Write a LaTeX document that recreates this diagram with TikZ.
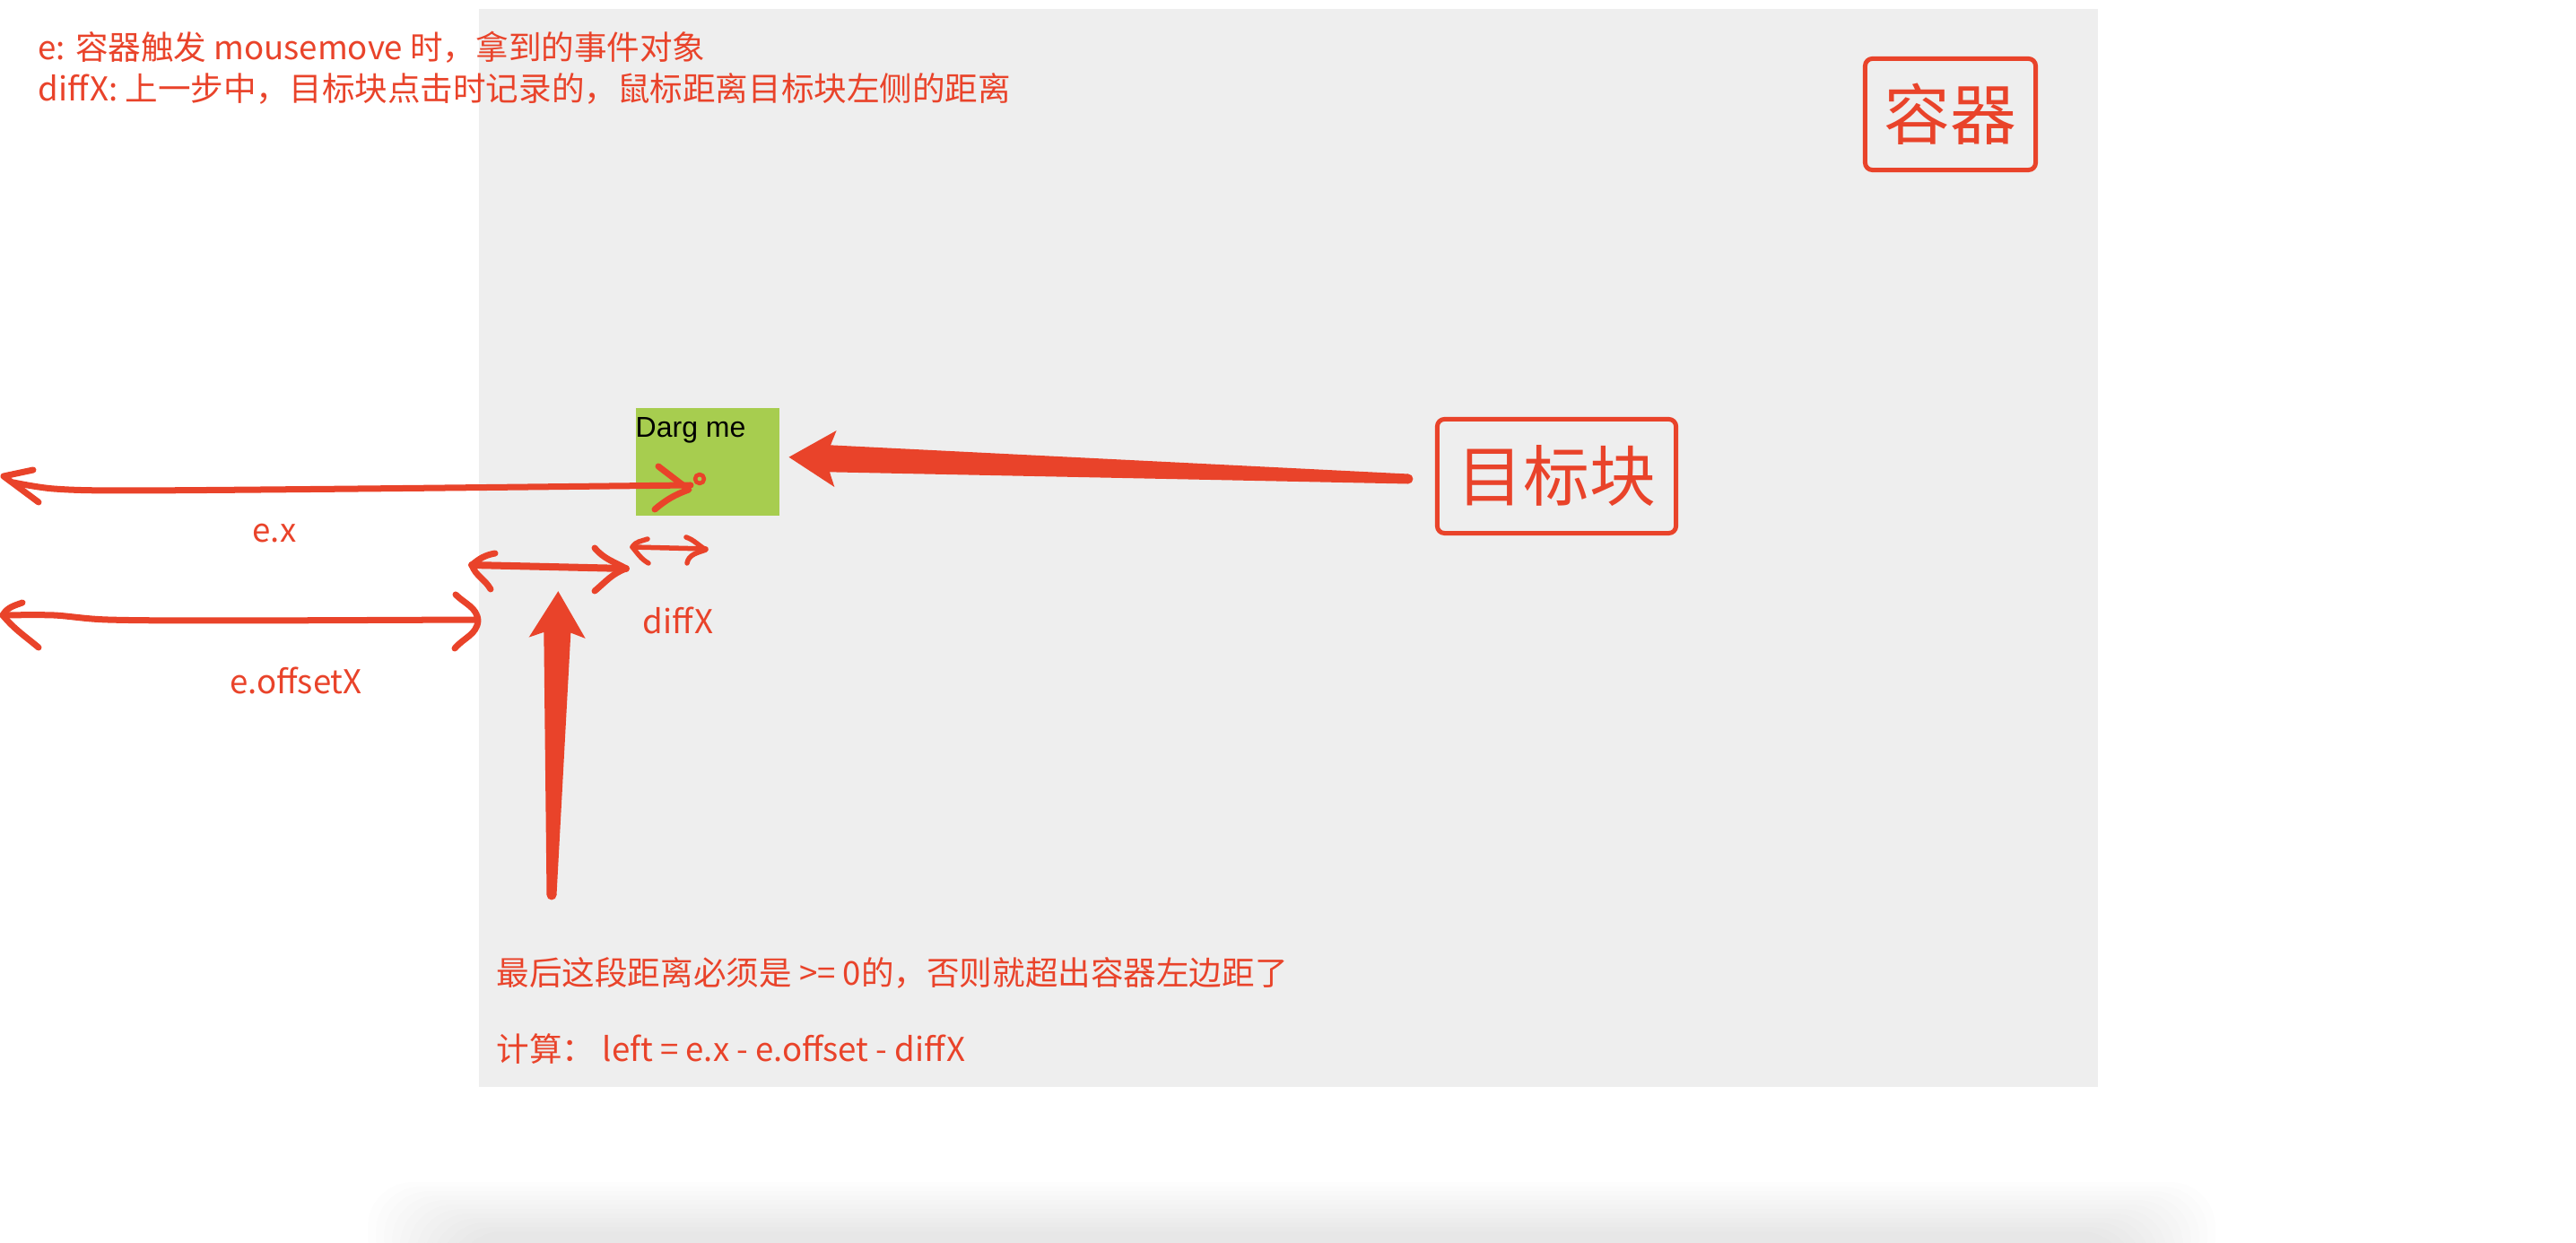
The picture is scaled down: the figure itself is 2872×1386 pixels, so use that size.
\documentclass[tikz,border=0pt]{standalone}
\usepackage{fontspec}
\setmainfont{Noto Sans CJK SC}
\newfontfamily\dragfont{Liberation Sans}
\usetikzlibrary{calc}

% tapered arrow: #1 tip, #2 tail
\newcommand{\redarrow}[2]{%
  \fill[cRed] (#1)
    -- ($(#1)!0.52cm!(#2)!0.315cm!90:(#2)$)
    -- ($(#1)!0.46cm!(#2)!0.15cm!90:(#2)$)
    -- ($(#2)!0.055cm!-90:(#1)$)
    -- ($(#2)!0.055cm!90:(#1)$)
    -- ($(#1)!0.46cm!(#2)!0.15cm!-90:(#2)$)
    -- ($(#1)!0.52cm!(#2)!0.315cm!-90:(#2)$)
    -- cycle;
  \fill[cRed] (#2) circle[radius=0.055cm];
}

\begin{document}
\begin{tikzpicture}[x=0.01cm, y=-0.01cm, font=\fontsize{10.4}{12.5}\selectfont,
  line cap=round, line join=round]

% --- colors ---
\definecolor{cRed}  {HTML}{E9432A}
\definecolor{cGreen}{HTML}{A7CD4F}
\definecolor{cBox}  {HTML}{EEEEEE}

\tikzset{
  redpen/.style={draw=cRed, line width=0.07cm},
  thinpen/.style={draw=cRed, line width=0.055cm},
  thickpen/.style={draw=cRed, line width=0.08cm},
  note/.style={text=cRed, inner sep=0pt, anchor=base west},
  lbl/.style={text=cRed, inner sep=0pt, anchor=base},
  bigtag/.style={draw=cRed, line width=0.05cm, rounded corners=0.08cm,
    text=cRed, inner sep=0pt, font=\fontsize{21}{21}\selectfont},
}

% --- page + shadow ---
\fill[white] (0,0) rectangle (2872,1386);
\useasboundingbox (0,0) rectangle (2872,1386);
\foreach \i in {0,...,11}
  \fill[black, opacity=0.008, rounded corners=0.5cm]
    (410+\i*9,1318+\i*5) rectangle (2470-\i*9,1430);

% --- container ---
\node[fill=cBox, minimum width=18.04cm, minimum height=12.02cm, inner sep=0,
  anchor=north west] (box) at (533,9) {};
\node[bigtag, minimum width=1.9cm, minimum height=1.24cm] (boxtag) at (2174.5,127.5) {容器};
\node[bigtag, minimum width=2.66cm, minimum height=1.27cm] (target) at (1735.5,531) {目标块};

% --- drag block ---
\node[fill=cGreen, minimum width=1.6cm, minimum height=1.2cm, inner sep=0,
  anchor=north west] (drag) at (708,454) {};
\node[anchor=base west, inner sep=0, font=\dragfont\fontsize{9.1}{10}\selectfont]
  (dragtxt) at (708,488) {Darg me};

% --- notes ---
\node[note] (line1) at (42,67) {e: 容器触发 mousemove 时，拿到的事件对象};
\node[note] (line2) at (42,113) {diffX: 上一步中，目标块点击时记录的，鼠标距离目标块左侧的距离};
\node[note] (rule) at (553,1099) {最后这段距离必须是 >= 0的，否则就超出容器左边距了};
\node[note] (formula) at (553,1184) {计算：\ left = e.x - e.offset - diffX};

% --- e.x ---
\draw[redpen] plot[smooth] coordinates {(15,538) (60,545) (140,547) (400,545) (770,541)};
\draw[redpen] (37,524) -- (4,531) -- (43,560);
\draw[redpen] (734,520) -- (768,546) to[out=200,in=40] (730,568);
\draw[cRed, line width=0.045cm] (780,534) circle[radius=0.05cm];
\node[lbl] (exlbl) at (306,605) {e.x};

% --- e.offsetX ---
\draw[redpen] plot[smooth] coordinates {(3,686) (60,686) (120,691) (250,692) (530,691)};
\draw[redpen] (25,672) to[out=200,in=60] (3,686) to[out=-50,in=140] (43,722);
\draw[redpen] (508,663) to[out=-45,in=95] (533,692) to[out=-95,in=50] (507,723);
\node[lbl] (offlbl) at (330,774) {e.offsetX};

% --- remaining gap ---
\coordinate (gapL) at (526,630);
\coordinate (gapR) at (698,634);
\draw[thickpen] (gapL) -- (gapR);
\draw[redpen] (552,617) to[out=190,in=40] (gapL) to[out=-70,in=120] (547,657);
\draw[redpen] (663,611) to[out=-50,in=150] (gapR) to[out=200,in=40] (663,659);

% --- diffX ---
\draw[thinpen] (705,610) -- (787,612);
\draw[thinpen] (722,601) to[out=200,in=60] (705,610) to[out=-50,in=150] (723,628);
\draw[thinpen] (765,599) to[out=-20,in=150] (787,613) to[out=200,in=80] (766,628);
\node[lbl] (difflbl) at (756,707) {diffX};

% --- big arrows ---
\coordinate (tipA) at ($(drag.east)+(10,-5)$);
\coordinate (tailA) at ($(target.west)+(-30,3)$);
\redarrow{tipA}{tailA}
\coordinate (tipB) at ($(gapL)!0.56!(gapR)+(0,27)$);
\coordinate (tailB) at (615,998);
\redarrow{tipB}{tailB}

\end{tikzpicture}
\end{document}
